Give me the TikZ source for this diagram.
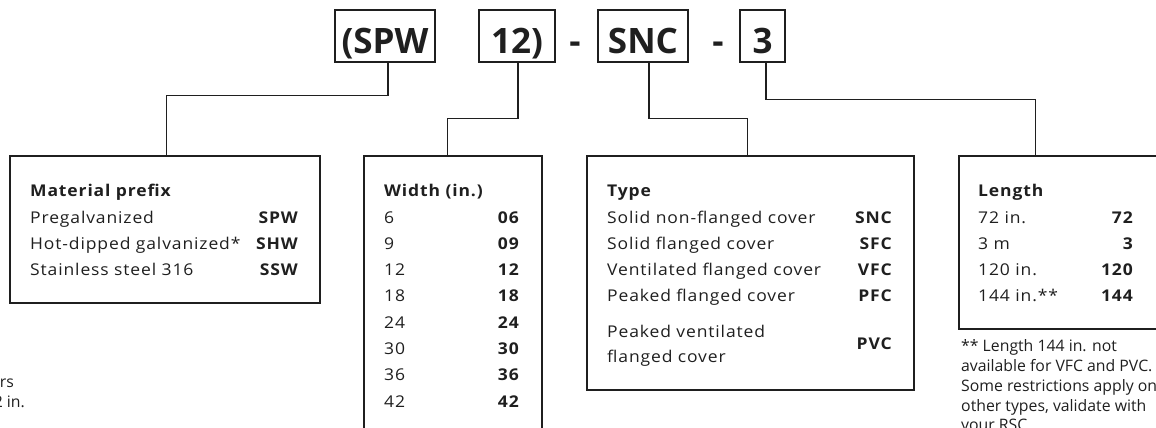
\documentclass[tikz,border=0pt]{standalone}
\usepackage{fontspec}
\setmainfont{Open Sans}[FakeStretch=1.08, LetterSpace=5.4]
\newfontfamily\bigfont{Open Sans}
\newfontfamily\notefont{Open Sans}
\definecolor{ink}{HTML}{1F1F1F}
\begin{document}
\begin{tikzpicture}[x=1pt,y=1pt,
  box/.style={draw=ink, line width=1.6pt, inner sep=0pt, anchor=north west},
  txt/.style={font=\fontsize{16.2}{20}\selectfont, text=ink, inner sep=0pt, anchor=base west},
  cod/.style={font=\fontsize{16.2}{20}\selectfont\bfseries, text=ink, inner sep=0pt, anchor=base east},
  hdr/.style={font=\fontsize{16.2}{20}\selectfont\bfseries, text=ink, inner sep=0pt, anchor=base west},
  note/.style={font=\notefont\fontsize{15.8}{18}\selectfont, text=ink, inner sep=0pt},
  big/.style={draw=ink, line width=1.6pt, minimum height=52pt, inner sep=0pt, text height=34pt, text depth=0pt, font=\bigfont\fontsize{35}{40}\selectfont\bfseries, text=ink},
  sepmark/.style={font=\bigfont\fontsize{35}{40}\selectfont\bfseries, text=ink, inner sep=0pt, anchor=base},
  conn/.style={draw=ink, line width=1.3pt}]
\useasboundingbox (0,0) rectangle (1156,-428);
\clip (0,0) rectangle (1156,-428);
% top code boxes
\node[big, minimum width=100pt] (spw) at (385,-36) {(SPW};
\node[big, minimum width=76pt] (w12) at (517,-36) {12)};
\node[sepmark] (d1) at (575,-53) {-};
\node[big, minimum width=90pt] (snc) at (643,-36) {SNC};
\node[sepmark] (d2) at (718,-53) {-};
\node[big, minimum width=45pt] (n3) at (762.5,-36) {3};
% option boxes
\node[box, minimum width=310pt, minimum height=147pt] (mat) at (9,-155) {};
\node[box, minimum width=178pt, minimum height=300pt] (wid) at (363,-155) {};
\node[box, minimum width=327pt, minimum height=234pt] (typ) at (586,-155) {};
\node[box, minimum width=250pt, minimum height=173pt] (len) at (958,-155) {};
% connectors
\draw[conn] ([xshift=3pt]spw.south) -- ++(0,-33) -| ([xshift=2pt]mat.north);
\draw[conn] ([xshift=1pt]w12.south) -- ++(0,-56) -| ([xshift=-5pt]wid.north);
\draw[conn] ([xshift=6pt]snc.south) -- ++(0,-56) -| ([xshift=-2.5pt]typ.north);
\draw[conn] ([xshift=3.5pt]n3.south) -- ++(0,-37) -| ([xshift=-48pt]len.north);
% material
\node[hdr] (mh) at (30,-196.7) {Material prefix};
\node[txt] (m1) at (30,-223) {Pregalvanized};
\node[cod] (m1c) at (298,-223) {SPW};
\node[txt] (m2) at (30,-249.3) {Hot-dipped galvanized*};
\node[cod] (m2c) at (298,-249.3) {SHW};
\node[txt] (m3) at (30,-275.6) {Stainless steel 316};
\node[cod] (m3c) at (298,-275.6) {SSW};
% width
\node[hdr] (wh) at (384,-196.7) {Width (in.)};
\node[txt] (w1) at (384,-223) {6};   \node[cod] (w1c) at (519,-223) {06};
\node[txt] (w2) at (384,-249.3) {9}; \node[cod] (w2c) at (519,-249.3) {09};
\node[txt] (w3) at (384,-275.6) {12}; \node[cod] (w3c) at (519,-275.6) {12};
\node[txt] (w4) at (384,-301.9) {18}; \node[cod] (w4c) at (519,-301.9) {18};
\node[txt] (w5) at (384,-328.2) {24}; \node[cod] (w5c) at (519,-328.2) {24};
\node[txt] (w6) at (384,-354.5) {30}; \node[cod] (w6c) at (519,-354.5) {30};
\node[txt] (w7) at (384,-380.8) {36}; \node[cod] (w7c) at (519,-380.8) {36};
\node[txt] (w8) at (384,-407.1) {42}; \node[cod] (w8c) at (519,-407.1) {42};
% type
\node[hdr] (th) at (607,-196.7) {Type};
\node[txt] (t1) at (607,-223) {Solid non-flanged cover}; \node[cod] (t1c) at (892,-223) {SNC};
\node[txt] (t2) at (607,-249.3) {Solid flanged cover}; \node[cod] (t2c) at (892,-249.3) {SFC};
\node[txt] (t3) at (607,-275.6) {Ventilated flanged cover}; \node[cod] (t3c) at (892,-275.6) {VFC};
\node[txt] (t4) at (607,-301.9) {Peaked flanged cover}; \node[cod] (t4c) at (892,-301.9) {PFC};
\node[txt] (t5) at (607,-337) {Peaked ventilated};
\node[txt] (t6) at (607,-362) {flanged cover};
\node[cod] (t5c) at (892,-349.3) {PVC};
% length
\node[hdr] (lh) at (978,-196.7) {Length};
\node[txt] (l1) at (978,-223) {72 in.}; \node[cod] (l1c) at (1133,-223) {72};
\node[txt] (l2) at (978,-249.3) {3 m}; \node[cod] (l2c) at (1133,-249.3) {3};
\node[txt] (l3) at (978,-275.6) {120 in.}; \node[cod] (l3c) at (1133,-275.6) {120};
\node[txt] (l4) at (978,-301.9) {144 in.**}; \node[cod] (l4c) at (1133,-301.9) {144};
% footnotes
\node[note, anchor=base west] (f1) at (961,-351.7) {** Length 144 in. not};
\node[note, anchor=base west] (f2) at (961,-371.7) {available for VFC and PVC.};
\node[note, anchor=base west] (f3) at (961,-391.7) {Some restrictions apply on};
\node[note, anchor=base west] (f4) at (961,-411.7) {other types, validate with};
\node[note, anchor=base west] (f5) at (961,-430.5) {your RSC.};
\node[note, anchor=base east] (g1) at (14,-387) {rs};
\node[note, anchor=base east] (g2) at (25,-407) {2 in.};
\end{tikzpicture}
\end{document}
